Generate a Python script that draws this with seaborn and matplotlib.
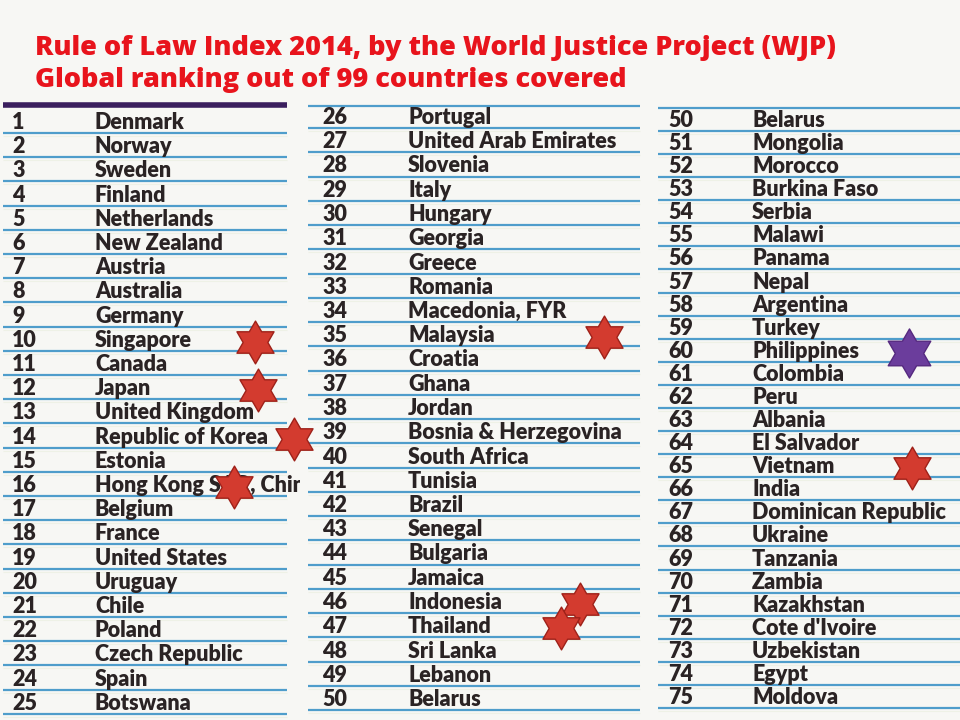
import matplotlib
matplotlib.use("Agg")
import matplotlib.pyplot as plt
from matplotlib.path import Path
from matplotlib.transforms import Bbox, TransformedBbox
import seaborn as sns
import pandas as pd

# Rule of Law Index 2014 - ranks and countries, three columns as in the slide
ranks_left = [1, 2, 3, 4, 5, 6, 7, 8, 9, 10, 11, 12, 13, 14, 15, 16, 17, 18, 19, 20, 21, 22, 23, 24, 25]
countries_left = ["Denmark", "Norway", "Sweden", "Finland", "Netherlands", "New Zealand", "Austria",
                  "Australia", "Germany", "Singapore", "Canada", "Japan", "United Kingdom",
                  "Republic of Korea", "Estonia", "Hong Kong SAR, China", "Belgium", "France",
                  "United States", "Uruguay", "Chile", "Poland", "Czech Republic", "Spain", "Botswana"]

ranks_mid = [26, 27, 28, 29, 30, 31, 32, 33, 34, 35, 36, 37, 38, 39, 40, 41, 42, 43, 44, 45, 46, 47, 48, 49, 50]
countries_mid = ["Portugal", "United Arab Emirates", "Slovenia", "Italy", "Hungary", "Georgia", "Greece",
                 "Romania", "Macedonia, FYR", "Malaysia", "Croatia", "Ghana", "Jordan",
                 "Bosnia & Herzegovina", "South Africa", "Tunisia", "Brazil", "Senegal", "Bulgaria",
                 "Jamaica", "Indonesia", "Thailand", "Sri Lanka", "Lebanon", "Belarus"]

ranks_right = [50, 51, 52, 53, 54, 55, 56, 57, 58, 59, 60, 61, 62, 63, 64, 65, 66, 67, 68, 69, 70, 71, 72, 73, 74, 75]
countries_right = ["Belarus", "Mongolia", "Morocco", "Burkina Faso", "Serbia", "Malawi", "Panama", "Nepal",
                   "Argentina", "Turkey", "Philippines", "Colombia", "Peru", "Albania", "El Salvador",
                   "Vietnam", "India", "Dominican Republic", "Ukraine", "Tanzania", "Zambia", "Kazakhstan",
                   "Cote d'Ivoire", "Uzbekistan", "Egypt", "Moldova"]

# highlighted countries (stars)
starred = ["Singapore", "Japan", "Republic of Korea", "Hong Kong SAR, China", "Malaysia",
           "Indonesia", "Thailand", "Philippines", "Vietnam"]
star_kind = ["red", "red", "red", "red", "red", "red", "red", "purple", "red"]

title_lines = ["Rule of Law Index 2014, by the World Justice Project (WJP)",
               "Global ranking out of 99 countries covered"]

# layout in pixel units (960 x 720 canvas)
columns = [
    dict(ranks=ranks_left, names=countries_left, x_num=12, x_name=95, x0=3, x1=287,
         top=105, first=133, pitch=24.2, top_color="#3b1f5e", top_lw=4.0, clip=300),
    dict(ranks=ranks_mid, names=countries_mid, x_num=322, x_name=408, x0=308, x1=640,
         top=106, first=128, pitch=24.25, top_color="#4f9dcb", top_lw=1.6, clip=None),
    dict(ranks=ranks_right, names=countries_right, x_num=668, x_name=752, x0=658, x1=960,
         top=108, first=131, pitch=23.08, top_color="#4f9dcb", top_lw=1.6, clip=None),
]
star_x = {"Singapore": 255, "Japan": 258, "Republic of Korea": 294, "Hong Kong SAR, China": 234,
          "Malaysia": 604, "Indonesia": 580, "Thailand": 561, "Philippines": 909, "Vietnam": 912}

sns.set_theme(style="white")
plt.rcParams["font.family"] = ["Lato", "DejaVu Sans"]

bg = "#f7f7f4"
fig = plt.figure(figsize=(9.6, 7.2), dpi=100, facecolor=bg)
ax = fig.add_axes([0, 0, 1, 1])
ax.set_facecolor(bg)
ax.set_xlim(0, 960)
ax.set_ylim(720, 0)
ax.axis("off")

# title
for i, line in enumerate(title_lines):
    ax.text(35, 55 + 32 * i, line, color="#e8141c", fontsize=19.5, fontweight="heavy",
            family=["Open Sans", "DejaVu Sans"], va="baseline", ha="left")

txt_size = 15.5
row_pos = {}
for col in columns:
    ax.hlines(col["top"], col["x0"], col["x1"], color=col["top_color"], lw=col["top_lw"])
    clip_box = None
    if col["clip"]:
        clip_box = TransformedBbox(Bbox([[0, 0], [col["clip"], 720]]), ax.transData)
    for k, (r, name) in enumerate(zip(col["ranks"], col["names"])):
        y_line = col["first"] + col["pitch"] * k
        ax.hlines(y_line, col["x0"], col["x1"], color="#4f9dcb", lw=1.6)
        ax.hlines(y_line + 3, col["x0"], col["x1"], color="#eef1e6", lw=0.8)
        ax.text(col["x_num"], y_line - 4, str(r), fontsize=txt_size, fontweight="heavy",
                color="#2a2324", va="baseline", ha="left")
        t2 = ax.text(col["x_name"], y_line - 4, name, fontsize=txt_size, fontweight="heavy",
                     color="#2a2324", va="baseline", ha="left")
        if clip_box is not None:
            t2.set_clip_box(clip_box)
            t2.set_clip_on(True)
        row_pos.setdefault(name, y_line - 11)

# stars
stars = pd.DataFrame({
    "country": starred,
    "kind": star_kind,
})
stars["x"] = [star_x[c] for c in starred]
stars["y"] = [row_pos[c] + 2 for c in starred]

star_path = Path.unit_regular_star(6, 0.577)
red = stars[stars["kind"] == "red"]
purple = stars[stars["kind"] == "purple"]
sns.scatterplot(data=red, x="x", y="y", marker=star_path, s=950, color="#d33b2f",
                edgecolor="#9e2119", linewidth=1.0, ax=ax, legend=False, zorder=5)
sns.scatterplot(data=purple, x="x", y="y", marker=star_path, s=1250, color="#6b3d9c",
                edgecolor="#55297f", linewidth=1.0, ax=ax, legend=False, zorder=5)
ax.set_xlim(0, 960)
ax.set_ylim(720, 0)
ax.axis("off")

fig.savefig("out.png", dpi=100, facecolor=bg)
